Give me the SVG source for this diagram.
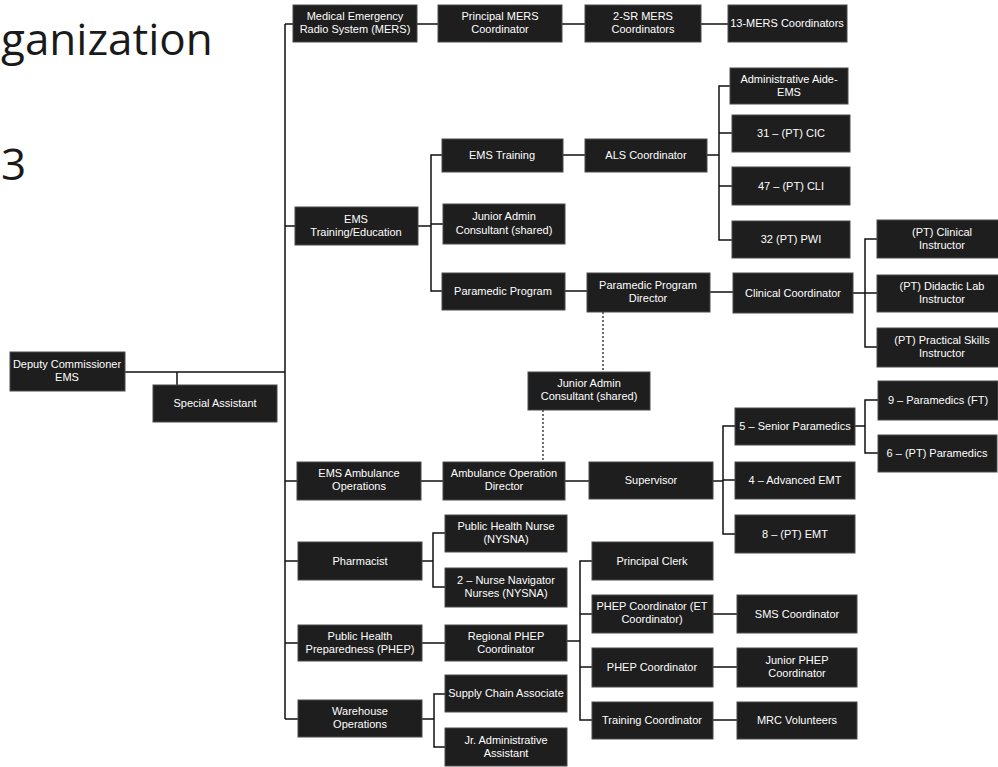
<svg xmlns="http://www.w3.org/2000/svg" width="998" height="767" viewBox="0 0 998 767">
<style>
.n rect{fill:#1e1e1e;stroke:#4a4a4a;stroke-width:1}
.n text{fill:#fff;font-family:"Liberation Sans",Arial,sans-serif;font-size:11px;text-anchor:middle}
.c path{fill:none;stroke:#111;stroke-width:1.5}
.c path.d{stroke-dasharray:2 2;stroke-width:1.2}
.t{font-family:"Open Sans","Liberation Sans",sans-serif;fill:#1a1a1a;font-size:44px}
</style>
<rect width="998" height="767" fill="#fff"/>
<text class="t" x="1" y="55">ganization</text>
<text class="t" x="1" y="180">3</text>
<g class="c">
<path d="M125,372H285M177,372V385M285,24V719"/>
<path d="M285,24H293M417,24H438M562,24H585M701,24H728"/>
<path d="M285,226H295M418,226H431M442,155H431V291H442M431,224H443M563,155H585"/>
<path d="M707,155H719M730,86H719V240H732M719,133H732M719,186H732"/>
<path d="M565,291H587M710,292H733M853,293H865M877,239H865V347H877M865,293H877"/>
<path class="d" d="M603,312V372M543,410V462"/>
<path d="M285,481H297M421,481H443M565,481H589M713,481H723M735,426H723V534H735M723,480H735"/>
<path d="M855,426H865M878,400H865V453H878"/>
<path d="M285,561H298M422,561H433M445,533H433V587H445"/>
<path d="M285,643H298M422,643H445M567,641H580M592,561H580V720H592M580,614H592M580,667H592"/>
<path d="M713,614H737M713,667H737M713,720H737"/>
<path d="M285,719H298M422,719H434M445,694H434V747H445"/>
</g>
<g id="deputy" class="n"><rect x="10" y="352" width="115" height="39"/><text x="67" y="368">Deputy Commissioner</text><text x="67" y="381">EMS</text></g>
<g id="special" class="n"><rect x="153" y="385" width="124" height="37"/><text x="215" y="407">Special Assistant</text></g>
<g id="mers" class="n"><rect x="293" y="5" width="124" height="37"/><text x="355" y="20">Medical Emergency</text><text x="355" y="33">Radio System (MERS)</text></g>
<g id="pmers" class="n"><rect x="438" y="5" width="124" height="37"/><text x="500" y="20">Principal MERS</text><text x="500" y="33">Coordinator</text></g>
<g id="srmers" class="n"><rect x="585" y="5" width="116" height="37"/><text x="643" y="20">2-SR MERS</text><text x="643" y="33">Coordinators</text></g>
<g id="mers13" class="n"><rect x="728" y="5" width="119" height="37"/><text x="787" y="27">13-MERS Coordinators</text></g>
<g id="adminaide" class="n"><rect x="730" y="68" width="118" height="36"/><text x="789" y="83">Administrative Aide-</text><text x="789" y="96">EMS</text></g>
<g id="cic" class="n"><rect x="732" y="115" width="118" height="37"/><text x="791" y="137">31 – (PT) CIC</text></g>
<g id="cli" class="n"><rect x="732" y="167" width="118" height="38"/><text x="791" y="190">47 – (PT) CLI</text></g>
<g id="pwi" class="n"><rect x="732" y="221" width="118" height="37"/><text x="791" y="243">32 (PT) PWI</text></g>
<g id="emstraining" class="n"><rect x="442" y="139" width="121" height="33"/><text x="502" y="159">EMS Training</text></g>
<g id="als" class="n"><rect x="585" y="139" width="122" height="33"/><text x="646" y="159">ALS Coordinator</text></g>
<g id="jac1" class="n"><rect x="443" y="204" width="122" height="40"/><text x="504" y="220">Junior Admin</text><text x="504" y="234">Consultant (shared)</text></g>
<g id="emste" class="n"><rect x="295" y="207" width="123" height="38"/><text x="356" y="223">EMS</text><text x="356" y="236">Training/Education</text></g>
<g id="pprog" class="n"><rect x="442" y="273" width="123" height="37"/><text x="503" y="295">Paramedic Program</text></g>
<g id="ppd" class="n"><rect x="587" y="273" width="123" height="39"/><text x="648" y="289">Paramedic Program</text><text x="648" y="302">Director</text></g>
<g id="clin" class="n"><rect x="733" y="273" width="120" height="40"/><text x="793" y="297">Clinical Coordinator</text></g>
<g id="r1" class="n"><rect x="877" y="220" width="130" height="38"/><text x="942" y="236">(PT) Clinical</text><text x="942" y="249">Instructor</text></g>
<g id="r2" class="n"><rect x="877" y="275" width="130" height="37"/><text x="942" y="290">(PT) Didactic Lab</text><text x="942" y="303">Instructor</text></g>
<g id="r3" class="n"><rect x="877" y="328" width="130" height="39"/><text x="942" y="344">(PT) Practical Skills</text><text x="942" y="357">Instructor</text></g>
<g id="jac2" class="n"><rect x="528" y="372" width="122" height="38"/><text x="589" y="387">Junior Admin</text><text x="589" y="400">Consultant (shared)</text></g>
<g id="ambops" class="n"><rect x="297" y="462" width="124" height="38"/><text x="359" y="477">EMS Ambulance</text><text x="359" y="490">Operations</text></g>
<g id="ambdir" class="n"><rect x="443" y="462" width="122" height="38"/><text x="504" y="477">Ambulance Operation</text><text x="504" y="490">Director</text></g>
<g id="supervisor" class="n"><rect x="589" y="462" width="124" height="37"/><text x="651" y="484">Supervisor</text></g>
<g id="senior" class="n"><rect x="735" y="408" width="120" height="37"/><text x="795" y="430">5 – Senior Paramedics</text></g>
<g id="advemt" class="n"><rect x="735" y="462" width="120" height="37"/><text x="795" y="484">4 – Advanced EMT</text></g>
<g id="ptemt" class="n"><rect x="735" y="515" width="120" height="38"/><text x="795" y="538">8 – (PT) EMT</text></g>
<g id="para9" class="n"><rect x="878" y="381" width="120" height="39"/><text x="938" y="404">9 – Paramedics (FT)</text></g>
<g id="para6" class="n"><rect x="878" y="435" width="119" height="37"/><text x="937" y="457">6 – (PT) Paramedics</text></g>
<g id="pharm" class="n"><rect x="298" y="542" width="124" height="38"/><text x="360" y="565">Pharmacist</text></g>
<g id="phn" class="n"><rect x="445" y="515" width="122" height="37"/><text x="506" y="530">Public Health Nurse</text><text x="506" y="543">(NYSNA)</text></g>
<g id="nav" class="n"><rect x="445" y="568" width="122" height="39"/><text x="506" y="584">2 – Nurse Navigator</text><text x="506" y="597">Nurses (NYSNA)</text></g>
<g id="phep" class="n"><rect x="298" y="625" width="124" height="36"/><text x="360" y="640">Public Health</text><text x="360" y="653">Preparedness (PHEP)</text></g>
<g id="regphep" class="n"><rect x="445" y="625" width="122" height="36"/><text x="506" y="640">Regional PHEP</text><text x="506" y="653">Coordinator</text></g>
<g id="warehouse" class="n"><rect x="298" y="700" width="124" height="37"/><text x="360" y="715">Warehouse</text><text x="360" y="728">Operations</text></g>
<g id="supply" class="n"><rect x="445" y="675" width="122" height="37"/><text x="506" y="697">Supply Chain Associate</text></g>
<g id="jraa" class="n"><rect x="445" y="728" width="122" height="38"/><text x="506" y="744">Jr. Administrative</text><text x="506" y="757">Assistant</text></g>
<g id="clerk" class="n"><rect x="592" y="542" width="121" height="38"/><text x="652" y="565">Principal Clerk</text></g>
<g id="phepet" class="n"><rect x="592" y="595" width="121" height="38"/><text x="652" y="610">PHEP Coordinator (ET</text><text x="652" y="623">Coordinator)</text></g>
<g id="phepc" class="n"><rect x="592" y="648" width="121" height="39"/><text x="652" y="671">PHEP Coordinator</text></g>
<g id="trainc" class="n"><rect x="592" y="702" width="121" height="37"/><text x="652" y="724">Training Coordinator</text></g>
<g id="sms" class="n"><rect x="737" y="595" width="120" height="38"/><text x="797" y="618">SMS Coordinator</text></g>
<g id="jphep" class="n"><rect x="737" y="648" width="120" height="39"/><text x="797" y="664">Junior PHEP</text><text x="797" y="677">Coordinator</text></g>
<g id="mrc" class="n"><rect x="737" y="702" width="120" height="37"/><text x="797" y="724">MRC Volunteers</text></g>
</svg>
